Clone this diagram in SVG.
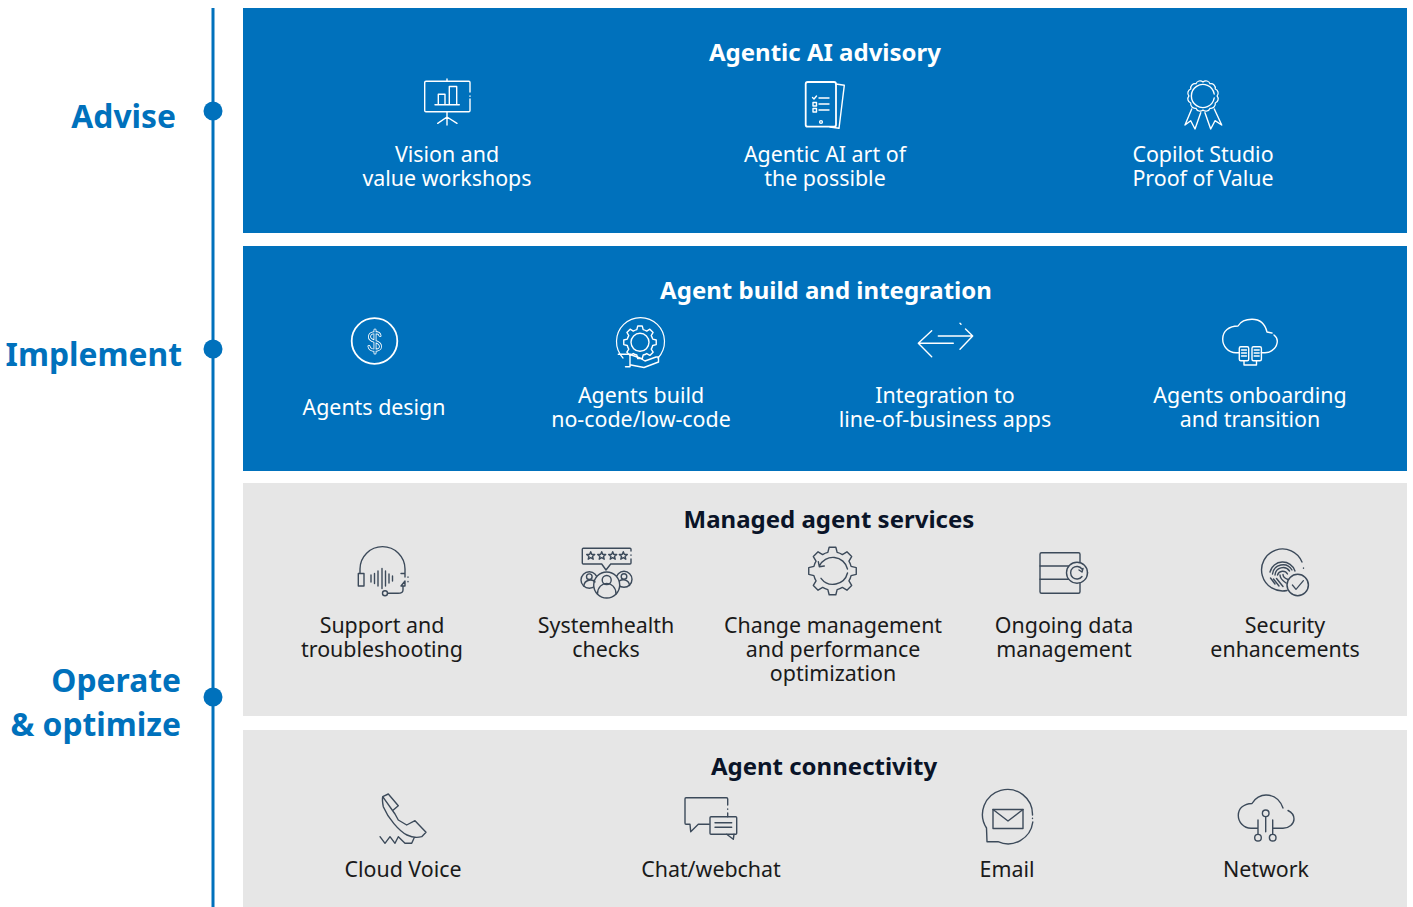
<svg xmlns="http://www.w3.org/2000/svg" xmlns:xlink="http://www.w3.org/1999/xlink" width="1413" height="907" viewBox="0 0 1413 907">
<style>
text{font-family:"Noto Sans","Open Sans","Liberation Sans",sans-serif;text-anchor:middle}
.stage{font-size:31.8px;font-weight:700;fill:#0071bc;text-anchor:end}
.title{font-size:24px;font-weight:700}
.lab{font-size:21.4px}
.blue{fill:#0071bc}.grey{fill:#e6e6e6}
.w text{fill:#fff}.d text{fill:#000}
.d .title{fill:#0a1428}
.d .lab{fill:#1a1a1a}
.ic{fill:none;stroke-linecap:round;stroke-linejoin:round;stroke-width:1.4}
.w .ic{stroke:#fff}.d .ic{stroke:#3c4a5a}
</style>
<defs>
<path id="gear" vector-effect="non-scaling-stroke" d="M15.5 -3.87L19.8 -2.78L19.8 2.78L15.5 3.87A16 16 0 0 1 13.7 8.22L15.97 12.03L12.03 15.97L8.22 13.7A16 16 0 0 1 3.87 15.5L2.78 19.8L-2.78 19.8L-3.87 15.5A16 16 0 0 1 -8.22 13.7L-12.03 15.97L-15.97 12.03L-13.7 8.22A16 16 0 0 1 -15.5 3.87L-19.8 2.78L-19.8 -2.78L-15.5 -3.87A16 16 0 0 1 -13.7 -8.22L-15.97 -12.03L-12.03 -15.97L-8.22 -13.7A16 16 0 0 1 -3.87 -15.5L-2.78 -19.8L2.78 -19.8L3.87 -15.5A16 16 0 0 1 8.22 -13.7L12.03 -15.97L15.97 -12.03L13.7 -8.22A16 16 0 0 1 15.5 -3.87Z"/>
<path id="star" d="M0 -4L1.1 -1.3L4 -1.2L1.8 .7L2.5 3.5L0 2L-2.5 3.5L-1.8 .7L-4 -1.2L-1.1 -1.3Z"/>
</defs>
<g id="connectors">
<line x1="213" y1="8" x2="213" y2="907" stroke="#0071bc" stroke-width="3"/>
</g>
<g id="stage-advise"><circle cx="213" cy="111" r="9.5" class="blue"/><text class="stage" x="176" y="128">Advise</text></g>
<g id="stage-implement"><circle cx="213" cy="349" r="9.5" class="blue"/><text class="stage" x="182" y="366">Implement</text></g>
<g id="stage-operate"><circle cx="213" cy="697" r="9.5" class="blue"/><text class="stage" x="181" y="692">Operate</text><text class="stage" x="181" y="736">&amp; optimize</text></g>

<g id="panel-advisory" class="w">
<rect x="243" y="8" width="1164" height="225" class="blue"/>
<text class="title" x="825" y="61">Agentic AI advisory</text>
<g id="vision">
<g class="ic"><path d="M470 92V82.5Q470 81.3 468.8 81.3H426Q424.7 81.3 424.7 82.5V110.5Q424.7 111.7 426 111.7H468.8Q470 111.7 470 110.5V99M470 96V96.3M447 79V81.3M447 111.7V125M437.7 123.3L447 117L457 123.3M435 104.7H459.3M438.3 104.7V94.3H445V104.7M449.3 104.7V86.5H456.7V104.7"/></g>
<text class="lab" x="447" y="162">Vision and</text><text class="lab" x="447" y="186">value workshops</text></g>
<g id="art">
<g class="ic"><rect x="805.7" y="82" width="30.3" height="44.7" rx="2" stroke-width="1.8"/><path d="M836 84L844.3 85.3L839 128.3L830 127M812.5 97.5L814 99L816.5 96M819 98H829M819 104H829M819 110H829M813 102.5h3.5v3.5h-3.5zM813 108.5h3.5v3.5h-3.5z"/><circle cx="821" cy="122" r="1.4"/></g>
<text class="lab" x="825" y="162">Agentic AI art of</text><text class="lab" x="825" y="186">the possible</text></g>
<g id="copilot">
<g class="ic"><path transform="translate(1203 96) scale(.88) translate(-1203 -94)" d="M1219 94A5 5 0 0 1 1216.9 102A5 5 0 0 1 1211 107.9A5 5 0 0 1 1203 110A5 5 0 0 1 1195 107.9A5 5 0 0 1 1189.1 102A5 5 0 0 1 1187 94A5 5 0 0 1 1189.1 86A5 5 0 0 1 1195 80.1A5 5 0 0 1 1203 78A5 5 0 0 1 1211 80.1A5 5 0 0 1 1216.9 86A5 5 0 0 1 1219 94Z"/><path d="M1214.2 94A11.5 11.5 0 1 0 1214.2 98"/><path d="M1191.7 109L1185 125L1190.7 120.7L1195 129L1200.7 112.7M1205 112.7L1210.7 129L1215 120.7L1221.7 125L1214.3 109"/></g>
<text class="lab" x="1203" y="162">Copilot Studio</text><text class="lab" x="1203" y="186">Proof of Value</text></g>
</g>

<g id="panel-build" class="w">
<rect x="243" y="246" width="1164" height="225" class="blue"/>
<text class="title" x="826" y="299">Agent build and integration</text>
<g id="design">
<g class="ic"><circle cx="374.5" cy="341" r="22.8" stroke-width="1.8"/><path d="M380 335.5C379 331.5 370 331.5 369.5 336.5C369 343 380.5 339.5 380.5 346.5C380.5 351.5 370 351.5 369 346.5M375 330V353" stroke-width="3"/><path d="M380 335.5C379 331.5 370 331.5 369.5 336.5C369 343 380.5 339.5 380.5 346.5C380.5 351.5 370 351.5 369 346.5M375 330V353" stroke="#0071bc" stroke-width="1.3"/></g>
<text class="lab" x="374" y="415">Agents design</text></g>
<g id="build">
<g class="ic"><path d="M623 358A24 24 0 1 1 658 358" stroke-width="1.2"/><use href="#gear" transform="translate(640 342.3) scale(.82)"/><circle cx="640" cy="342.3" r="9"/><path d="M618.3 354.3H631M630 354.3V366.7M625.5 366.7H630M631.5 355L640 358L645 361L656 357L658.5 357V362L644 367.5L631 365"/></g>
<text class="lab" x="641" y="403">Agents build</text><text class="lab" x="641" y="427">no-code/low-code</text></g>
<g id="integration">
<g class="ic"><path d="M938.3 336H972.7M960 323.3L961 324.3M965.5 329L972.7 336L960 349.3M918.3 343.3H953.3M931.7 330.7L918.3 343.3L931.7 356.7"/></g>
<text class="lab" x="945" y="403">Integration to</text><text class="lab" x="945" y="427">line-of-business apps</text></g>
<g id="onboarding">
<g class="ic"><path d="M1239.3 352.7H1236C1228 352.7 1222.7 346 1222.7 339C1222.7 331 1229 326 1238 326C1241 321 1247 319.3 1252 319.3C1260 319.3 1265 324 1267 332L1272 333M1274 335C1276.5 337 1277.3 339 1277.3 341C1277.3 347 1272 352.7 1265 352.7H1261.3"/><rect x="1239.3" y="346.7" width="9.4" height="14" rx="1.5"/><rect x="1252" y="346.7" width="9.4" height="14" rx="1.5"/><path d="M1241.5 350H1246.5M1241.5 353H1246.5M1241.5 356H1246.5M1254.2 350H1259.2M1254.2 353H1259.2M1254.2 356H1259.2M1244 360.7V365H1256.5V360.7"/></g>
<text class="lab" x="1250" y="403">Agents onboarding</text><text class="lab" x="1250" y="427">and transition</text></g>
</g>

<g id="panel-managed" class="d">
<rect x="243" y="483" width="1164" height="233" class="grey"/>
<text class="title" x="829" y="528">Managed agent services</text>
<g id="support">
<g class="ic"><path d="M360 573.3V569A22.5 22.4 0 0 1 405 569V573.3M358.3 573.5H364V586H358.3ZM401 573.5H405V577M405 581V586H401ZM408 577V577.3M408 581.5V581.8M403 586V590Q403 593.3 398 593.3H387.5"/><circle cx="385" cy="593.3" r="2.5"/><path d="M371 575V582M374.5 573.5V583.5M378 571V586M382 568.5V588.5M385.5 571V586M389 574V583M392.5 576V581"/></g>
<text class="lab" x="382" y="633">Support and</text><text class="lab" x="382" y="657">troubleshooting</text></g>
<g id="health">
<g class="ic"><path d="M631 551V549.3Q631 548.3 630 548.3H583.3Q582.3 548.3 582.3 549.3V563Q582.3 564 583.3 564H601.7L606 570L610.7 564H630Q631 564 631 563V559M631 555V555.3"/><use href="#star" x="590.7" y="555.7"/><use href="#star" x="601.7" y="555.7"/><use href="#star" x="612.7" y="555.7"/><use href="#star" x="623.3" y="555.7"/><circle cx="589.3" cy="580" r="8.3"/><circle cx="624" cy="579.3" r="8"/><circle cx="606.7" cy="585" r="13" fill="#e6e6e6"/><circle cx="606.7" cy="580" r="4.5"/><path d="M597.5 594C597.5 580 616 580 616 594"/><circle cx="589.3" cy="576.7" r="2.8"/><circle cx="624" cy="576.5" r="2.8"/><path d="M583.8 586C584.5 579 593 579 595 582M629.5 585.5C629 579 622 579 619.5 581"/></g>
<text class="lab" x="606" y="633">Systemhealth</text><text class="lab" x="606" y="657">checks</text></g>
<g id="change">
<g class="ic"><use href="#gear" transform="translate(832.5 571) scale(1.2)"/><path d="M821 578.3A15 15 0 0 0 847.5 573M847.5 569A15 15 0 0 0 819.3 566M818.3 561.7L819.3 566.7L824.3 566"/></g>
<text class="lab" x="833" y="633">Change management</text><text class="lab" x="833" y="657">and performance</text><text class="lab" x="833" y="681">optimization</text></g>
<g id="data">
<g class="ic" stroke-width="1.6"><rect x="1040" y="552.7" width="40" height="40.6" rx="1.5"/><path d="M1040 566H1080M1040 579.3H1080"/><circle cx="1077" cy="572.7" r="10.5" fill="#e6e6e6"/><path d="M1082 569A6.3 6.3 0 1 0 1082 576.5M1083 568.5L1082 572L1079 570M1087.5 572.5V573"/></g>
<text class="lab" x="1064" y="633">Ongoing data</text><text class="lab" x="1064" y="657">management</text></g>
<g id="security">
<g class="ic" stroke-width="1.2"><path d="M1302 562A21 21 0 1 0 1287 590.5M1303.5 568V568.3"/><path d="M1270 572A13 13 0 0 1 1295 571M1272.5 574A10.5 10.5 0 0 1 1292 570M1275 575A8 8 0 0 1 1289.5 571M1277.5 575A5.5 5.5 0 0 1 1287.5 574M1270.5 578L1275 584M1273.5 579L1279 586M1276.5 578.5L1283 586.5M1280 575C1280 579 1283 581 1286 583M1283 574.5C1283 577 1285 578.5 1288 579.5"/><circle cx="1297.7" cy="585" r="10.7" fill="#e6e6e6" stroke-width="1.5"/><path d="M1292.4 585L1296 589.3L1303.4 580.7" stroke-width="1.3"/></g>
<text class="lab" x="1285" y="633">Security</text><text class="lab" x="1285" y="657">enhancements</text></g>
</g>

<g id="panel-connectivity" class="d">
<rect x="243" y="730" width="1164" height="177" class="grey"/>
<text class="title" x="824" y="775">Agent connectivity</text>
<g id="voice">
<g class="ic"><path d="M382.7 796.7L388.3 794L398.3 805.7L393.3 810M395 814L398.3 820L406.7 825L415 820.7L426 832.3L421.7 836.7C417 838 412 837.5 407 835C399 831 388 818 383.3 806.7Q382 800 382.7 796.7ZM380 836.7L385 843.3L390 836.7L395 843.3L398.3 836.7L405 843.3L411.7 843.3L414 838.3"/></g>
<text class="lab" x="403" y="877">Cloud Voice</text></g>
<g id="chat">
<g class="ic"><path d="M709.3 824.3H698.3L690.7 831.7L690 824.3H686Q685 824.3 685 823V799Q685 797.7 686 797.7H726.5Q727.7 797.7 727.7 799V805M727.7 809V809.3M727.7 813V816.7"/><rect x="710" y="816.7" width="26.7" height="17.6" rx="1"/><path d="M726.7 834.3L733.3 839.3L734 834.3M715 822.7H731.7M715 827.3H731.7"/></g>
<text class="lab" x="711" y="877">Chat/webchat</text></g>
<g id="email">
<g class="ic"><path d="M1032.5 815A25 25 0 1 0 986.5 828L987 841.7H998A25 25 0 0 0 1032.8 822M1032.5 818.3V818.6"/><rect x="993" y="809.5" width="30" height="19"/><path d="M993 809.5L1008 821L1023 809.5"/></g>
<text class="lab" x="1007" y="877">Email</text></g>
<g id="network">
<g class="ic"><path d="M1258 828.3H1251C1243.5 828.3 1238.3 822 1238.3 815.5C1238.3 808 1244 804 1252 803.5C1255 798 1261 795 1266 795C1275 795 1280 800 1283 808M1288 810.5C1292 812.5 1294 816 1294 819C1294 824 1289 828.3 1283 828.3H1272.7M1258 820V834M1272.7 820V834M1265.7 816.7V831.7"/><circle cx="1258" cy="837.7" r="3.3"/><circle cx="1272.7" cy="837.7" r="3.3"/><circle cx="1265.7" cy="813.3" r="3.3"/></g>
<text class="lab" x="1266" y="877">Network</text></g>
</g>
</svg>
